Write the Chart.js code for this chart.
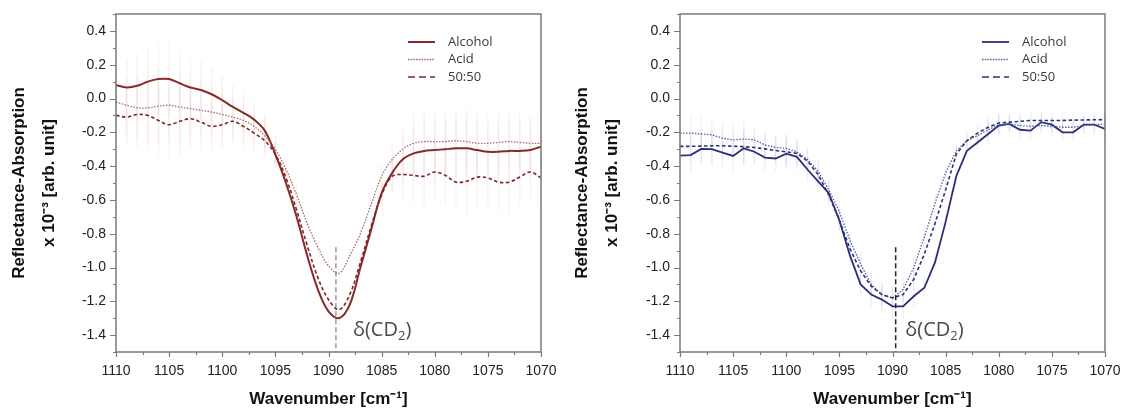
<!DOCTYPE html>
<html>
<head>
<meta charset="utf-8">
<script src="https://cdn.jsdelivr.net/npm/chart.js@4.4.0/dist/chart.umd.min.js"></script>
<style>
html, body { margin: 0; padding: 0; background: #fff; }
#wrap { position: relative; width: 1125px; height: 410px; }
.box { position: absolute; top: 0; height: 410px; }
</style>
</head>
<body>
<div id="wrap">
	<div class="box" style="left:0;width:560px"><canvas id="left" width="560" height="410"></canvas></div>
	<div class="box" style="left:560px;width:565px"><canvas id="right" width="565" height="410"></canvas></div>
</div>
<script>
// wavenumber grid (cm-1), shared by both panels
const wavenumbers = [1110, 1109, 1108, 1107, 1106, 1105, 1104, 1103, 1102, 1101,
	1100, 1099, 1098, 1097, 1096, 1095, 1094, 1093, 1092, 1091,
	1090, 1089, 1088, 1087, 1086, 1085, 1084, 1083, 1082, 1081,
	1080, 1079, 1078, 1077, 1076, 1075, 1074, 1073, 1072, 1071, 1070];

// left panel (red)
const alcoholLeft = [0.08, 0.065, 0.075, 0.10, 0.115, 0.115, 0.09, 0.065, 0.05, 0.025,
	-0.01, -0.05, -0.085, -0.125, -0.19, -0.33, -0.50, -0.70, -0.93, -1.13,
	-1.26, -1.30, -1.22, -1.00, -0.78, -0.56, -0.44, -0.36, -0.325, -0.31,
	-0.305, -0.30, -0.295, -0.295, -0.305, -0.315, -0.315, -0.31, -0.31, -0.305, -0.285];
const acidLeft = [-0.02, -0.04, -0.055, -0.055, -0.045, -0.04, -0.05, -0.06, -0.07, -0.08,
	-0.095, -0.11, -0.13, -0.165, -0.22, -0.30, -0.42, -0.57, -0.74, -0.88,
	-0.99, -1.035, -0.93, -0.80, -0.63, -0.46, -0.36, -0.30, -0.265, -0.255,
	-0.255, -0.255, -0.25, -0.255, -0.265, -0.265, -0.26, -0.255, -0.26, -0.265, -0.265];
const mixLeft = [-0.10, -0.11, -0.095, -0.10, -0.13, -0.155, -0.135, -0.12, -0.14, -0.165,
	-0.155, -0.135, -0.165, -0.205, -0.25, -0.33, -0.47, -0.66, -0.87, -1.06,
	-1.19, -1.25, -1.16, -0.97, -0.76, -0.57, -0.46, -0.45, -0.455, -0.46,
	-0.435, -0.455, -0.495, -0.49, -0.465, -0.47, -0.495, -0.495, -0.465, -0.435, -0.47];
const errLeft = [0.15, 0.17, 0.19, 0.21, 0.22, 0.22, 0.20, 0.18, 0.17, 0.16,
	0.14, 0.13, 0.12, 0.11, 0.10, 0.08, 0.07, 0.06, 0.05, 0.04,
	0.04, 0.04, 0.04, 0.04, 0.05, 0.07, 0.10, 0.14, 0.17, 0.18,
	0.18, 0.17, 0.18, 0.19, 0.18, 0.17, 0.17, 0.18, 0.17, 0.16, 0.15];

// right panel (blue)
const alcoholRight = [-0.338, -0.335, -0.298, -0.30, -0.32, -0.34, -0.295, -0.315, -0.35, -0.355,
	-0.326, -0.345, -0.42, -0.49, -0.56, -0.72, -0.93, -1.10, -1.16, -1.19,
	-1.23, -1.23, -1.17, -1.12, -0.97, -0.73, -0.46, -0.31, -0.26, -0.21,
	-0.16, -0.15, -0.185, -0.19, -0.14, -0.155, -0.20, -0.20, -0.155, -0.155, -0.18];
const acidRight = [-0.205, -0.205, -0.21, -0.215, -0.235, -0.245, -0.24, -0.245, -0.275, -0.29,
	-0.295, -0.315, -0.36, -0.43, -0.54, -0.67, -0.84, -0.98, -1.10, -1.16,
	-1.18, -1.13, -1.00, -0.82, -0.62, -0.44, -0.31, -0.25, -0.22, -0.185,
	-0.155, -0.15, -0.16, -0.165, -0.16, -0.165, -0.17, -0.17, -0.16, -0.155, -0.15];
const mixRight = [-0.283, -0.283, -0.282, -0.28, -0.28, -0.282, -0.285, -0.29, -0.298, -0.308,
	-0.315, -0.325, -0.37, -0.45, -0.57, -0.72, -0.89, -1.02, -1.11, -1.16,
	-1.18, -1.16, -1.07, -0.92, -0.74, -0.54, -0.33, -0.25, -0.205, -0.17,
	-0.145, -0.14, -0.135, -0.13, -0.13, -0.13, -0.13, -0.128, -0.127, -0.126, -0.125];
const errRight = [0.09, 0.10, 0.10, 0.10, 0.09, 0.09, 0.10, 0.08, 0.08, 0.08,
	0.09, 0.08, 0.07, 0.07, 0.06, 0.06, 0.06, 0.07, 0.07, 0.07,
	0.07, 0.07, 0.07, 0.06, 0.05, 0.05, 0.05, 0.05, 0.05, 0.06,
	0.06, 0.05, 0.05, 0.05, 0.05, 0.05, 0.05, 0.05, 0.05, 0.05, 0.05];

const seriesNames = ['Alcohol', 'Acid', '50:50'];
const xTicks = [1110, 1105, 1100, 1095, 1090, 1085, 1080, 1075, 1070];
const yTicks = [-1.4, -1.2, -1.0, -0.8, -0.6, -0.4, -0.2, 0.0, 0.2, 0.4];
const peakLeft = 1089.3;
const peakRight = 1089.7;
const peakTop = -0.88;
const peakText = ['δ(CD', '2', ')'];

Chart.defaults.font.family = '"Liberation Sans", Arial, sans-serif';

// frame plus outward major/minor ticks
const frameTicks = {
	id: 'frameTicks',
	afterDraw(chart) {
		const {ctx, chartArea: a, scales: {x, y}} = chart;
		ctx.save();
		ctx.strokeStyle = '#7a7a7a';
		ctx.lineWidth = 1.5;
		ctx.strokeRect(a.left, a.top, a.right - a.left, a.bottom - a.top);
		ctx.lineWidth = 1.2;
		ctx.beginPath();
		for (let k = -15; k <= 5; k++) {
			const py = Math.round(y.getPixelForValue(k / 10)) + 0.5;
			const len = (k % 2 === 0) ? 6 : 3;
			ctx.moveTo(a.left, py);
			ctx.lineTo(a.left - len, py);
		}
		for (let w = 1110; w >= 1070; w -= 2.5) {
			const px = Math.round(x.getPixelForValue(w)) + 0.5;
			const len = (w % 5 === 0) ? 5 : 3;
			ctx.moveTo(px, a.bottom);
			ctx.lineTo(px, a.bottom + len);
		}
		ctx.stroke();
		ctx.restore();
	}
};

const errorBars = {
	id: 'errorBars',
	beforeDatasetsDraw(chart) {
		const {ctx, scales: {x, y}} = chart;
		ctx.save();
		chart.data.datasets.forEach(d => {
			if (!d.errors)
				return;
			ctx.strokeStyle = d.errColor;
			ctx.lineWidth = 1.5;
			d.data.forEach((p, i) => {
				const px = x.getPixelForValue(p.x);
				ctx.beginPath();
				ctx.moveTo(px, y.getPixelForValue(p.y + d.errors[i]));
				ctx.lineTo(px, y.getPixelForValue(p.y - d.errors[i]));
				ctx.stroke();
			});
		});
		ctx.restore();
	}
};

const inLegend = {
	id: 'inLegend',
	afterDraw(chart, args, opts) {
		const {ctx, chartArea: a} = chart;
		ctx.save();
		ctx.font = '13px "Open Sans", sans-serif';
		ctx.textBaseline = 'middle';
		ctx.fillStyle = '#3a3a3a';
		chart.data.datasets.filter(d => d.errors).forEach((d, i) => {
			const x0 = a.left + opts.x;
			const yy = a.top + opts.y + i * opts.gap;
			ctx.strokeStyle = d.borderColor;
			ctx.lineWidth = d.legendWidth;
			ctx.setLineDash(d.legendDash);
			ctx.beginPath();
			ctx.moveTo(x0, yy);
			ctx.lineTo(x0 + 27, yy);
			ctx.stroke();
			ctx.setLineDash([]);
			ctx.fillText(d.label, x0 + 40, yy);
		});
		ctx.restore();
	}
};

const peakLabel = {
	id: 'peakLabel',
	afterDraw(chart, args, opts) {
		const {ctx, scales: {x, y}} = chart;
		ctx.save();
		ctx.fillStyle = '#4a4a4a';
		ctx.textBaseline = 'middle';
		let px = x.getPixelForValue(opts.x);
		const py = y.getPixelForValue(opts.y);
		ctx.font = '20px "Open Sans", sans-serif';
		ctx.fillText(peakText[0], px, py);
		px += ctx.measureText(peakText[0]).width;
		ctx.font = '13px "Open Sans", sans-serif';
		ctx.fillText(peakText[1], px, py + 6);
		px += ctx.measureText(peakText[1]).width;
		ctx.font = '20px "Open Sans", sans-serif';
		ctx.fillText(peakText[2], px, py);
		ctx.restore();
	}
};

function buildChart(id, values, errors, look) {
	const datasets = values.map((v, i) => ({
		label: seriesNames[i],
		data: wavenumbers.map((w, j) => ({x: w, y: v[j]})),
		errors: errors,
		errColor: look.errColor,
		borderColor: look.colors[i],
		borderWidth: look.widths[i],
		borderDash: look.dashes[i],
		legendDash: look.legendDashes[i],
		legendWidth: look.widths[i],
		showLine: true,
		pointRadius: 0,
		tension: look.tension,
		order: 3 - i,
	}));
	datasets.push({
		label: 'peak',
		data: [{x: look.peak, y: peakTop}, {x: look.peak, y: -1.5}],
		borderColor: look.peakColor,
		borderWidth: look.peakWidth,
		borderDash: [5, 3],
		showLine: true,
		pointRadius: 0,
		order: 0,
	});

	new Chart(document.getElementById(id), {
		type: 'scatter',
		data: {datasets: datasets},
		options: {
			responsive: false,
			animation: false,
			events: [],
			layout: {padding: {left: 0, right: look.padRight, top: 14, bottom: 0}},
			plugins: {
				legend: {display: false},
				tooltip: {enabled: false},
				inLegend: {x: look.legendX, y: 28, gap: 17.5},
				peakLabel: {x: look.labelX, y: -1.37},
			},
			scales: {
				x: {
					type: 'linear',
					reverse: true,
					min: 1070,
					max: 1110,
					afterBuildTicks: s => { s.ticks = xTicks.map(v => ({value: v})); },
					afterFit: s => { s.height = 58; s.paddingLeft = 0; s.paddingRight = 0; },
					grid: {display: false, drawTicks: false},
					border: {display: false},
					ticks: {
						padding: 11,
						color: '#222',
						font: {size: 14},
						maxRotation: 0,
						autoSkip: false,
						callback: v => String(v),
					},
					title: {
						display: true,
						text: 'Wavenumber [cm⁻¹]',
						color: '#111',
						font: {size: 17, weight: 'bold', lineHeight: 1.2},
						padding: {top: 0, bottom: 0},
					},
				},
				y: {
					type: 'linear',
					min: -1.5,
					max: 0.5,
					afterBuildTicks: s => { s.ticks = yTicks.map(v => ({value: v})); },
					afterFit: s => { s.width = look.yWidth; s.paddingTop = 0; s.paddingBottom = 0; },
					grid: {display: false, drawTicks: false},
					border: {display: false},
					ticks: {
						padding: 10,
						color: '#222',
						font: {size: 14},
						callback: v => v.toFixed(1),
					},
					title: {
						display: true,
						text: ['Reflectance-Absorption', 'x 10⁻³ [arb. unit]'],
						color: '#111',
						font: {size: 17, weight: 'bold', lineHeight: 1.76},
						padding: {top: look.yTitlePad, bottom: 0},
					},
				},
			},
		},
		plugins: [errorBars, frameTicks, inLegend, peakLabel],
	});
}

buildChart('left', [alcoholLeft, acidLeft, mixLeft], errLeft, {
	colors: ['#862a2a', '#a66a6a', '#7d2626'],
	widths: [2, 1.3, 1.6],
	dashes: [[], [1.5, 1.5], [3.5, 2.5]],
	legendDashes: [[], [1.5, 1.2], [7, 4]],
	errColor: 'rgba(225, 160, 160, 0.13)',
	tension: 0.35,
	peak: peakLeft,
	peakColor: '#666',
	peakWidth: 1,
	padRight: 19,
	yWidth: 116,
	yTitlePad: 4,
	legendX: 292,
	labelX: 1087.7,
});

buildChart('right', [alcoholRight, acidRight, mixRight], errRight, {
	colors: ['#2b2f78', '#5a5c99', '#2a3470'],
	widths: [1.8, 1.3, 1.6],
	dashes: [[], [1.5, 1.5], [3.5, 2.5]],
	legendDashes: [[], [1.5, 1.2], [7, 4]],
	errColor: 'rgba(160, 160, 225, 0.15)',
	tension: 0,
	peak: peakRight,
	peakColor: '#222',
	peakWidth: 1.5,
	padRight: 20,
	yWidth: 120,
	yTitlePad: 7,
	legendX: 302,
	labelX: 1088.8,
});
</script>
</body>
</html>
